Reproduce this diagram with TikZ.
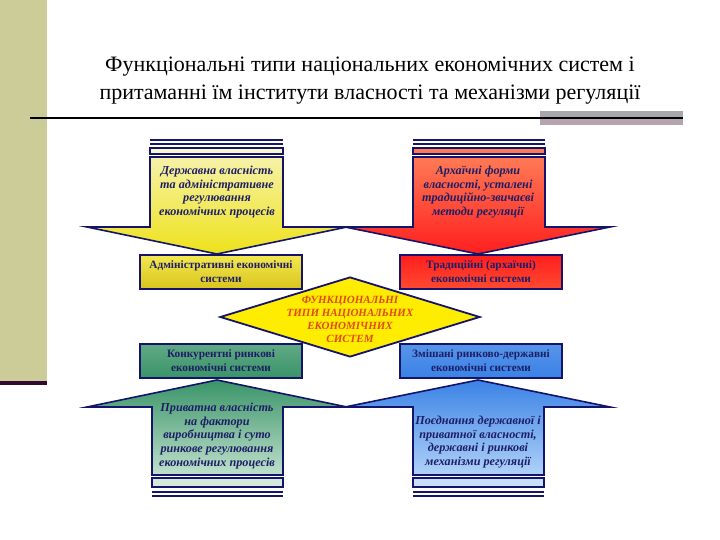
\documentclass[tikz,border=0pt]{standalone}
\usepackage{fontspec}
\setmainfont{Liberation Serif}
\usetikzlibrary{
  positioning,
  shapes.geometric,
}
\definecolor{navyline}{HTML}{14146A}
\definecolor{navytext}{HTML}{1E1E66}
\definecolor{olivebar}{HTML}{CCCC99}
\definecolor{plumline}{HTML}{330A33}
\definecolor{greybar}{HTML}{A8A8AC}
\definecolor{greybarlow}{HTML}{B4A4AE}
\definecolor{yelpale}{HTML}{F6F2A8}
\definecolor{yelbright}{HTML}{EEE21A}
\definecolor{yelbox}{HTML}{F3E850}
\definecolor{yelboxdark}{HTML}{D9C41C}
\definecolor{redpale}{HTML}{FF7A55}
\definecolor{redbright}{HTML}{FF1E1E}
\definecolor{redbox}{HTML}{FF4A30}
\definecolor{grndark}{HTML}{3A9468}
\definecolor{grnpale}{HTML}{BFE0CC}
\definecolor{bludark}{HTML}{3A82E6}
\definecolor{blupale}{HTML}{B0D2F8}
\definecolor{coretext}{HTML}{E24A12}

\tikzset{
  arrowshape/.style={draw=navyline, line width=1.6pt, line join=miter},
  stripe/.style={draw=navyline, line width=1.2pt},
  sysbox/.style={draw=navyline, line width=2pt, minimum width=162pt,
    minimum height=34pt, align=center, inner sep=1pt, text=navytext,
    font=\bfseries\fontsize{11.3}{14}\selectfont},
  arrowtext/.style={align=center, text=navytext,
    font=\bfseries\itshape\fontsize{12.2}{13.6}\selectfont},
}

\begin{document}
\begin{tikzpicture}[x=1pt, y=-1pt]
  \useasboundingbox (0,0) rectangle (720,540);

  % side bar and title
  \fill[olivebar] (0,0) rectangle (47,381);
  \fill[plumline] (0,381) rectangle (47,385);
  \node[font=\fontsize{22}{28}\selectfont, align=center] (title) at (370,81)
    {Функціональні типи національних економічних систем і\\
     притаманні їм інститути власності та механізми регуляції};
  \fill[greybar] (540,111) rectangle (683,118);
  \fill[greybarlow] (540,118) rectangle (683,125);
  \draw[line width=2pt] (30,118) -- (683,118);

  % downward arrows
  \fill[navyline] (150,139) rectangle (283,141);
  \fill[navyline] (150,143) rectangle (283,145);
  \draw[stripe, fill=yelpale!60!white] (150,148) rectangle (283,154);
  \draw[arrowshape, top color=yelpale, bottom color=yelbright]
    (150,157) -- (283,157) -- (283,227) -- (347,227) -- (217,254)
    -- (87,227) -- (150,227) -- cycle;
  \node[arrowtext] (statetext) at (217,192)
    {Державна власність\\та адміністративне\\регулювання\\економічних процесів};

  \fill[navyline] (413,139) rectangle (545,141);
  \fill[navyline] (413,143) rectangle (545,145);
  \draw[stripe, fill=redpale] (413,148) rectangle (545,154);
  \draw[arrowshape, top color=redpale, bottom color=redbright]
    (413,157) -- (545,157) -- (545,227) -- (610,227) -- (478,254)
    -- (345,227) -- (413,227) -- cycle;
  \node[arrowtext] (archtext) at (478,192)
    {Архаїчні форми\\власності, усталені\\традиційно-звичаєві\\методи регуляції};

  % system boxes
  \node[sysbox, top color=yelbox, bottom color=yelboxdark] (adm) at (221,272)
    {Адміністративні економічні\\системи};
  \node[sysbox, top color=redbright, bottom color=redbox] (trad) at (481,272)
    {Традиційні (архаїчні)\\економічні системи};
  \node[sysbox, top color=grndark!80!white, bottom color=grndark] (konk) at (221,360.5)
    {Конкурентні ринкові\\економічні системи};
  \node[sysbox, top color=bludark!85!white, bottom color=bludark] (zmish) at (481,360.5)
    {Змішані ринково-державні\\економічні системи};

  % central diamond
  \node[diamond, draw=navyline, line width=1.8pt, fill=yellow!95!orange,
    minimum width=260pt, minimum height=80pt, inner sep=0pt] (core) at (350,317) {};
  \node[align=center, text=coretext,
    font=\bfseries\itshape\fontsize{11}{13}\selectfont] (coretitle) at (350,319)
    {ФУНКЦІОНАЛЬНІ\\ТИПИ НАЦІОНАЛЬНИХ\\ЕКОНОМІЧНИХ\\СИСТЕМ};

  % upward arrows
  \draw[arrowshape, top color=grndark, bottom color=grnpale]
    (152,475) -- (283,475) -- (283,407) -- (347,407) -- (217,380)
    -- (87,407) -- (152,407) -- cycle;
  \draw[stripe, fill=grnpale!70!white] (152,478) rectangle (283,487);
  \fill[navyline] (152,491) rectangle (283,493);
  \fill[navyline] (152,495) rectangle (283,497);
  \node[arrowtext] (privtext) at (217,436)
    {Приватна власність\\на фактори\\виробництва і суто\\ринкове регулювання\\економічних процесів};

  \draw[arrowshape, top color=bludark, bottom color=blupale]
    (413,475) -- (544,475) -- (544,407) -- (610,407) -- (478,380)
    -- (345,407) -- (413,407) -- cycle;
  \draw[stripe, fill=blupale!70!white] (413,478) rectangle (544,487);
  \fill[navyline] (413,491) rectangle (544,493);
  \fill[navyline] (413,495) rectangle (544,497);
  \node[arrowtext] (mixtext) at (478,442)
    {Поєднання державної і\\приватної власності,\\державні і ринкові\\механізми регуляції};
\end{tikzpicture}
\end{document}
